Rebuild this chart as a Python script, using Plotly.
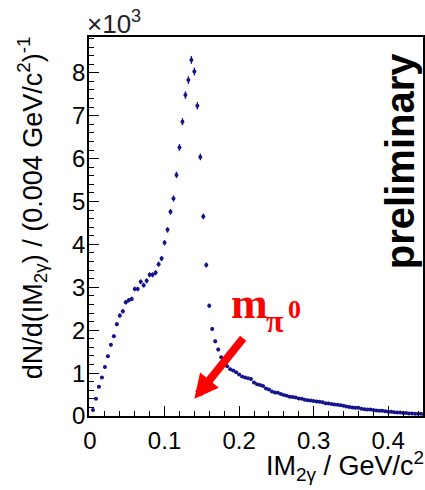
import numpy as np
import plotly.graph_objects as go

# ---- data (counts per 0.004 GeV/c^2 bin, in units of 10^3) ----
bin_width = 0.004
counts_k = [
    0.14, 0.40, 0.68, 0.90, 1.14, 1.39, 1.66, 1.86, 2.14, 2.34,
    2.44, 2.65, 2.70, 2.73, 2.96, 2.96, 3.13, 3.05, 3.15, 3.29,
    3.29, 3.34, 3.54, 3.67, 4.04, 4.34, 4.76, 5.07, 5.62, 6.26,
    6.86, 7.48, 7.83, 8.30, 8.03, 7.23, 6.04, 4.65, 3.52, 2.57,
    2.03, 1.74, 1.55, 1.37, 1.25, 1.16, 1.09, 1.06, 1.02, 0.97,
    0.92, 0.90, 0.88, 0.86, 0.78, 0.74, 0.72, 0.70, 0.64, 0.62,
    0.57, 0.55, 0.54, 0.51, 0.49, 0.47, 0.45, 0.44, 0.43, 0.41,
    0.40, 0.38, 0.37, 0.36, 0.35, 0.34, 0.33, 0.32, 0.30, 0.29,
    0.28, 0.27, 0.26, 0.25, 0.24, 0.22, 0.21, 0.20, 0.19, 0.19,
    0.17, 0.16, 0.15, 0.15, 0.14, 0.13, 0.12, 0.12, 0.11, 0.10,
    0.10, 0.09, 0.08, 0.08, 0.07, 0.07, 0.06, 0.06, 0.05, 0.05,
    0.05, 0.04,
]
x_ticks = [0, 0.1, 0.2, 0.3, 0.4]
y_ticks = [0, 1, 2, 3, 4, 5, 6, 7, 8]

counts = np.array(counts_k)
x_centers = bin_width * np.arange(1, len(counts) + 1)
stat_err = np.sqrt(counts * 1000.0) / 1000.0  # Poisson uncertainty

FONT = "Liberation Sans, Arial, sans-serif"
SERIF = "Liberation Serif, Times New Roman, serif"
MARK = "#14148c"

fig = go.Figure()
fig.add_trace(go.Scatter(
    x=x_centers, y=counts, mode="markers",
    marker=dict(size=4, color=MARK),
    error_y=dict(type="data", array=stat_err, color=MARK, thickness=1.4, width=0),
    error_x=dict(type="constant", value=bin_width / 2, color=MARK, thickness=1.4, width=0),
    showlegend=False, cliponaxis=True,
))

L, T, B = 89, 37, 74
W, H = 425, 490
pw, ph = W - L, H - T - B

def px(xp):
    return (xp - L) / pw

def py(yp):
    return (H - B - yp) / ph

axis_common = dict(
    showgrid=False, zeroline=False, showline=True, linecolor="black", linewidth=1.6,
    mirror=True, ticks="inside", tickcolor="black", tickwidth=1.2,
    tickfont=dict(family=FONT, size=24, color="black"),
)

fig.update_xaxes(
    range=[-1 / 750, 335 / 750], tickvals=x_ticks, ticktext=[str(v) for v in x_ticks],
    ticklen=10, ticklabelstandoff=2,
    minor=dict(dtick=0.02, tick0=0, ticks="inside", ticklen=5, tickcolor="black", tickwidth=1.2),
    **axis_common,
)
fig.update_yaxes(
    range=[0, ph / 42.9], tickvals=y_ticks, ticktext=[str(v) for v in y_ticks],
    ticklen=10, ticklabelstandoff=-3,
    minor=dict(dtick=0.2, tick0=0, ticks="inside", ticklen=5, tickcolor="black", tickwidth=1.2),
    **axis_common,
)

annotations = [
    # y-axis title
    dict(text="dN/d(IM<sub>2γ</sub>) / (0.004 GeV/c<sup>2</sup>)<sup>-1</sup>",
         xref="paper", yref="paper", x=px(32), y=py(208), xanchor="center", yanchor="middle",
         textangle=-90, showarrow=False, font=dict(family=FONT, size=27, color="black")),
    # x-axis title
    dict(text="IM<sub>2γ</sub> / GeV/c<sup>2</sup>",
         xref="paper", yref="paper", x=px(265), y=py(466), xanchor="left", yanchor="middle",
         showarrow=False, font=dict(family=FONT, size=27, color="black")),
    # exponent
    dict(text="×10<sup>3</sup>", xref="paper", yref="paper", x=px(85), y=py(22),
         xanchor="left", yanchor="middle", showarrow=False,
         font=dict(family=FONT, size=26, color="#222222")),
    # preliminary
    dict(text="<b>preliminary</b>", xref="paper", yref="paper", x=px(402), y=py(161),
         xanchor="center", yanchor="middle", textangle=-90, showarrow=False,
         font=dict(family=FONT, size=40, color="black")),
    # m_pi0 label
    dict(text="<b>m</b>", xref="paper", yref="paper", x=px(250.5), y=py(303),
         xanchor="center", yanchor="middle", showarrow=False,
         font=dict(family=SERIF, size=44, color="#ff0000")),
    dict(text="<b>π</b>", xref="paper", yref="paper", x=px(276), y=py(321),
         xanchor="center", yanchor="middle", showarrow=False,
         font=dict(family=SERIF, size=32, color="#ff0000")),
    dict(text="<b>0</b>", xref="paper", yref="paper", x=px(296), y=py(309),
         xanchor="center", yanchor="middle", showarrow=False,
         font=dict(family=SERIF, size=26, color="#ff0000")),
    # arrow
    dict(text="", x=0.14, y=0.40, xref="x", yref="y", ax=50, ay=-62,
         showarrow=True, arrowhead=2, arrowsize=0.6, arrowwidth=8, arrowcolor="#ff0000",
         standoff=0, startstandoff=0),
]

fig.update_layout(
    width=W, height=H, margin=dict(l=L, r=0, t=T, b=B, pad=0),
    paper_bgcolor="white", plot_bgcolor="white",
    font=dict(family=FONT, color="black"),
    annotations=annotations,
)

fig.write_html("out.html")
